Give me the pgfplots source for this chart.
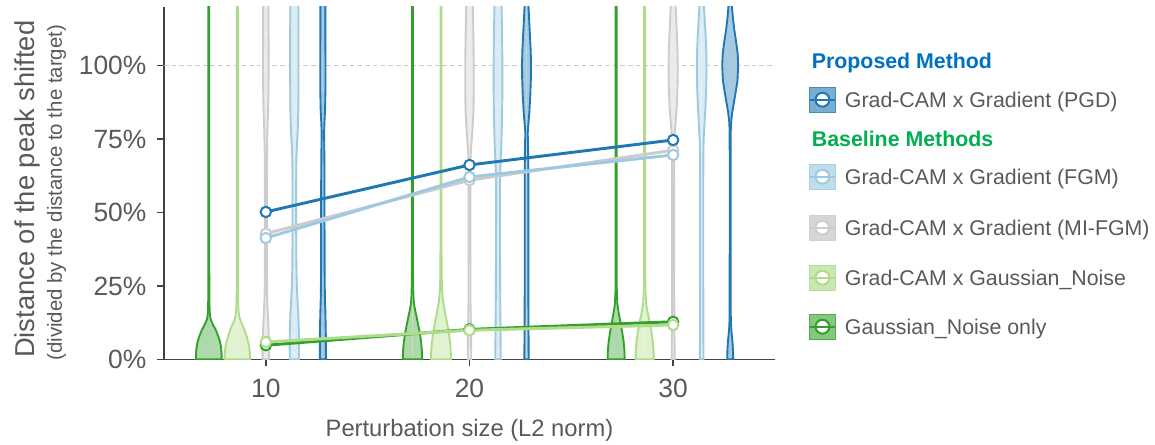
\documentclass[border=0pt]{standalone}
\usepackage{fontspec}
\setmainfont{Liberation Sans}
\usepackage{pgfplots}
\usepackage{pgfplotstable}
\pgfplotsset{compat=1.18}

\definecolor{cDB}{HTML}{1F78B4}
\definecolor{cLB}{HTML}{9ECAE1}
\definecolor{cGR}{HTML}{CCCCCC}
\definecolor{cLG}{HTML}{AEDC8A}
\definecolor{cDG}{HTML}{33A02C}
\definecolor{fDB}{HTML}{A5C9E1}
\definecolor{fLB}{HTML}{DBEBF4}
\definecolor{fGR}{HTML}{EBEBEB}
\definecolor{fLG}{HTML}{E0F2D0}
\definecolor{fDG}{HTML}{ADD9AB}
\definecolor{tx}{HTML}{595959}
\definecolor{ax}{HTML}{444444}
\definecolor{tBlue}{HTML}{0070C0}
\definecolor{tGreen}{HTML}{00B050}

% violin half-width profiles: w = half width (px), y = value (%)
\pgfplotstableread{
w y
0 0
12.8 0
12.8 2
12.3 4
11.2 6
9.3 8
7 10
4.6 11.5
2.8 12.8
1.6 14
0.9 16
0.6 20
0.5 30
0.5 130
0 130
}\vDGa
\pgfplotstableread{
w y
0 0
12.8 0
12.6 2
12 4
10.8 6
9.2 8
7.2 10
5 11.8
3.2 13.2
2 14.5
1.2 16.5
0.7 20
0.5 30
0.5 130
0 130
}\vLGa
\pgfplotstableread{
w y
0 0
3.2 0
3.3 4
3 8
2.5 12
1.8 17
1.2 22
1 30
1 60
1.1 70
1.6 78
2.3 85
2.7 92
2.8 100
2.7 115
2.6 130
0 130
}\vGRa
\pgfplotstableread{
w y
0 0
4.6 0
4.7 5
4.5 10
4 15
3.2 20
2.5 25
2 32
1.8 45
1.8 60
2 68
2.6 73
3.4 78
4 85
4.2 95
4.2 110
4 130
0 130
}\vLBa
\pgfplotstableread{
w y
0 0
3 0
3 8
2.6 15
2 22
1.8 30
1.7 45
1.7 60
1.5 70
1.2 77
1.5 80
2.2 85
2.6 92
2.6 100
2.5 115
2.4 130
0 130
}\vDBa
\pgfplotstableread{
w y
0 0
9.6 0
9.4 3
8.6 6
7.3 9
5.6 12
3.8 15
2.5 17
1.5 19
0.9 22
0.6 28
0.5 40
0.5 130
0 130
}\vDGb
\pgfplotstableread{
w y
0 0
10 0
9.8 3
9 6
7.8 9
6.3 12
4.6 15
3 18
2 20
1.2 23
0.7 28
0.5 40
0.5 130
0 130
}\vLGb
\pgfplotstableread{
w y
0 0
1.8 0
1.5 10
1 20
0.9 40
0.9 60
1 68
1.6 72
2.5 76
3.3 80
4 85
4.3 92
4.3 100
4 108
3.6 116
3.2 124
3 130
0 130
}\vGRb
\pgfplotstableread{
w y
0 0
2.8 0
2.5 10
2.2 20
2 40
1.9 55
2 62
2.4 66
3.2 72
3.9 80
4.3 88
4.4 96
4.3 104
4 112
3.6 120
3.2 130
0 130
}\vLBb
\pgfplotstableread{
w y
0 0
2.2 0
2 10
1.8 25
1.8 45
1.8 65
1.5 73
1.2 77
1.8 80
2.8 84
3.8 90
4.4 96
4.5 100
4.2 105
3.5 110
2.7 115
2 120
1.5 130
0 130
}\vDBb
\pgfplotstableread{
w y
0 0
8.5 0
8.3 3
7.5 6
6.2 9
4.6 12
3 15
2 17
1.2 19
0.7 23
0.5 30
0.5 130
0 130
}\vDGc
\pgfplotstableread{
w y
0 0
9.1 0
8.9 3
8.2 6
7 9
5.4 12
3.6 15
2.4 17
1.5 19
0.9 23
0.5 30
0.5 130
0 130
}\vLGc
\pgfplotstableread{
w y
0 0
1.5 0
1.3 10
1 30
1 60
1.1 72
1.5 77
2.5 81
3.6 86
4.3 92
4.6 98
4.4 104
3.8 110
3 116
2.3 122
1.8 130
0 130
}\vGRc
\pgfplotstableread{
w y
0 0
1.8 0
1.7 10
1.6 30
1.6 60
1.7 70
2 75
2.8 80
3.8 86
4.5 92
4.8 98
4.7 104
4 110
3 116
2.2 121
1.5 130
0 130
}\vLBc
\pgfplotstableread{
w y
0 0
3 0
2.8 3
2.3 6
1.4 9
0.8 12
0.6 15
0.5 40
0.5 70
0.6 78
1 81
2 84
3.5 87
5.5 91
7.3 95
8 100
7.5 104
6 108
4.2 112
2.8 116
1.8 120
1.2 125
0.9 130
0 130
}\vDBc

% #1 centre, #2 table, #3 fill colour, #4 line colour
\newcommand{\violin}[4]{%
  \addplot[fill=#3, draw=none, mark=none, forget plot] table[x expr=#1+\thisrow{w}/20.37, y=y]{#2};
  \addplot[fill=#3, draw=none, mark=none, forget plot] table[x expr=#1-\thisrow{w}/20.37, y=y]{#2};
  \addplot[draw=#4, line width=1.4pt, mark=none, forget plot] table[x expr=#1+\thisrow{w}/20.37, y=y]{#2};
  \addplot[draw=#4, line width=1.4pt, mark=none, forget plot] table[x expr=#1-\thisrow{w}/20.37, y=y]{#2};
}
% #1 colour, #2 table: white-filled markers first, then the line over them
\newcommand{\meanline}[2]{%
  \addplot[forget plot, only marks, mark=*, mark size=3.9pt, mark options={fill=white, draw=#1, line width=1.5pt}] table[x=x, y=y]{#2};
  \addplot[forget plot, mark=none, draw=#1, line width=2.2pt] table[x=x, y=y]{#2};
}

\pgfplotstableread{
x y
10 4.8
20 10.2
30 12.8
}\mDG
\pgfplotstableread{
x y
10 5.9
20 9.9
30 11.7
}\mLG
\pgfplotstableread{
x y
10 42.8
20 61.0
30 71.2
}\mGR
\pgfplotstableread{
x y
10 41.3
20 62.1
30 69.6
}\mLB
\pgfplotstableread{
x y
10 50.2
20 66.2
30 74.7
}\mDB

\pgfplotsset{
  legpatch/.style n args={3}{legend image code/.code={
    \draw[fill=#2, draw=#3, line width=0.8pt] (0pt,-3.4pt) rectangle (19pt,15.4pt);
    \draw[#1, fill=white, line width=1.5pt] (9.5pt,6pt) circle (5.2pt);
    \draw[#1, line width=1.8pt] (0pt,6pt) -- (19pt,6pt);
  }},
}

\begin{document}
\begin{tikzpicture}
\useasboundingbox (-123pt,-63.5pt) rectangle (743.25pt,269.5pt);
\begin{axis}[
  at={(0,0)}, anchor=south west,
  scale only axis, width=458.25pt, height=264.5pt,
  xmin=5, xmax=35, ymin=0, ymax=120.1,
  axis x line*=bottom, axis y line*=left,
  xtick={10,20,30},
  ytick={0,25,50,75,100},
  yticklabels={0\%,25\%,50\%,75\%,100\%},
  /pgf/number format/assume math mode=true,
  tick align=outside, major tick length=5pt,
  axis line style={draw=ax, line width=1.1pt},
  tick style={draw=ax, line width=1.1pt},
  tick label style={font=\fontsize{19.8}{23}\selectfont, text=tx},
  yticklabel style={anchor=east, inner sep=0pt, xshift=-8pt},
  xticklabel style={anchor=north, inner sep=0pt, yshift=-9.5pt},
  legend style={at={(axis description cs:1.0549,0.877)}, anchor=north west,
    draw=none, fill=none, inner sep=0pt, outer sep=0pt,
    column sep=6.5pt, row sep=0pt,
    font=\fontsize{16}{19}\selectfont, text=tx,
    cells={anchor=base west},
    nodes={inner sep=0pt, text depth=10pt}},
]
\addplot[forget plot, mark=none, draw=cGR, line width=1pt, dash pattern=on 3.5pt off 2.3pt] coordinates {(5,100) (35,100)};

\violin{7.2}{\vDGa}{fDG}{cDG}
\violin{8.6}{\vLGa}{fLG}{cLG}
\violin{10}{\vGRa}{fGR}{cGR}
\violin{11.4}{\vLBa}{fLB}{cLB}
\violin{12.8}{\vDBa}{fDB}{cDB}
\violin{17.2}{\vDGb}{fDG}{cDG}
\violin{18.6}{\vLGb}{fLG}{cLG}
\violin{20}{\vGRb}{fGR}{cGR}
\violin{21.4}{\vLBb}{fLB}{cLB}
\violin{22.8}{\vDBb}{fDB}{cDB}
\violin{27.2}{\vDGc}{fDG}{cDG}
\violin{28.6}{\vLGc}{fLG}{cLG}
\violin{30}{\vGRc}{fGR}{cGR}
\violin{31.4}{\vLBc}{fLB}{cLB}
\violin{32.8}{\vDBc}{fDB}{cDB}

% mean lines
\meanline{cDG}{\mDG}
\meanline{cLG}{\mLG}
\meanline{cGR}{\mGR}
\meanline{cLB}{\mLB}
\meanline{cDB}{\mDB}

% legend
\addlegendimage{empty legend}
\addlegendentry{\hspace*{-24.8pt}\textcolor{tBlue}{\bfseries Proposed Method}\rule{0pt}{14pt}}
\addlegendimage{legpatch={cDB}{cDB!60!white}{cDB!85!white}}
\addlegendentry{Grad-CAM x Gradient (PGD)\rule{0pt}{19.25pt}}
\addlegendimage{empty legend}
\addlegendentry{\hspace*{-24.8pt}\textcolor{tGreen}{\bfseries Baseline Methods}\rule{0pt}{19.25pt}}
\addlegendimage{legpatch={cLB}{cLB!65!white}{cLB!90!white}}
\addlegendentry{Grad-CAM x Gradient (FGM)\rule{0pt}{18.5pt}}
\addlegendimage{legpatch={cGR}{cGR!80!white}{cGR!100!black!90!white}}
\addlegendentry{Grad-CAM x Gradient (MI-FGM)\rule{0pt}{28.25pt}}
\addlegendimage{legpatch={cLG}{cLG!65!white}{cLG!90!white}}
\addlegendentry{Grad-CAM x Gaussian\_Noise\rule{0pt}{27.5pt}}
\addlegendimage{legpatch={cDG}{cDG!60!white}{cDG!85!white}}
\addlegendentry{Gaussian\_Noise only\rule{0pt}{26.75pt}}
\end{axis}

\node[rotate=90, anchor=base, font=\fontsize{20.5}{24}\selectfont, text=tx] at (-97.3pt,127.5pt) {Distance of the peak shifted};
\node[rotate=90, anchor=base, font=\fontsize{15.3}{18}\selectfont, text=tx] at (-76.5pt,124.9pt) {(divided by the distance to the target)};
\node[anchor=base, font=\fontsize{17.8}{21}\selectfont, text=tx] at (229.1pt,-58pt) {Perturbation size (L2 norm)};
\end{tikzpicture}
\end{document}
